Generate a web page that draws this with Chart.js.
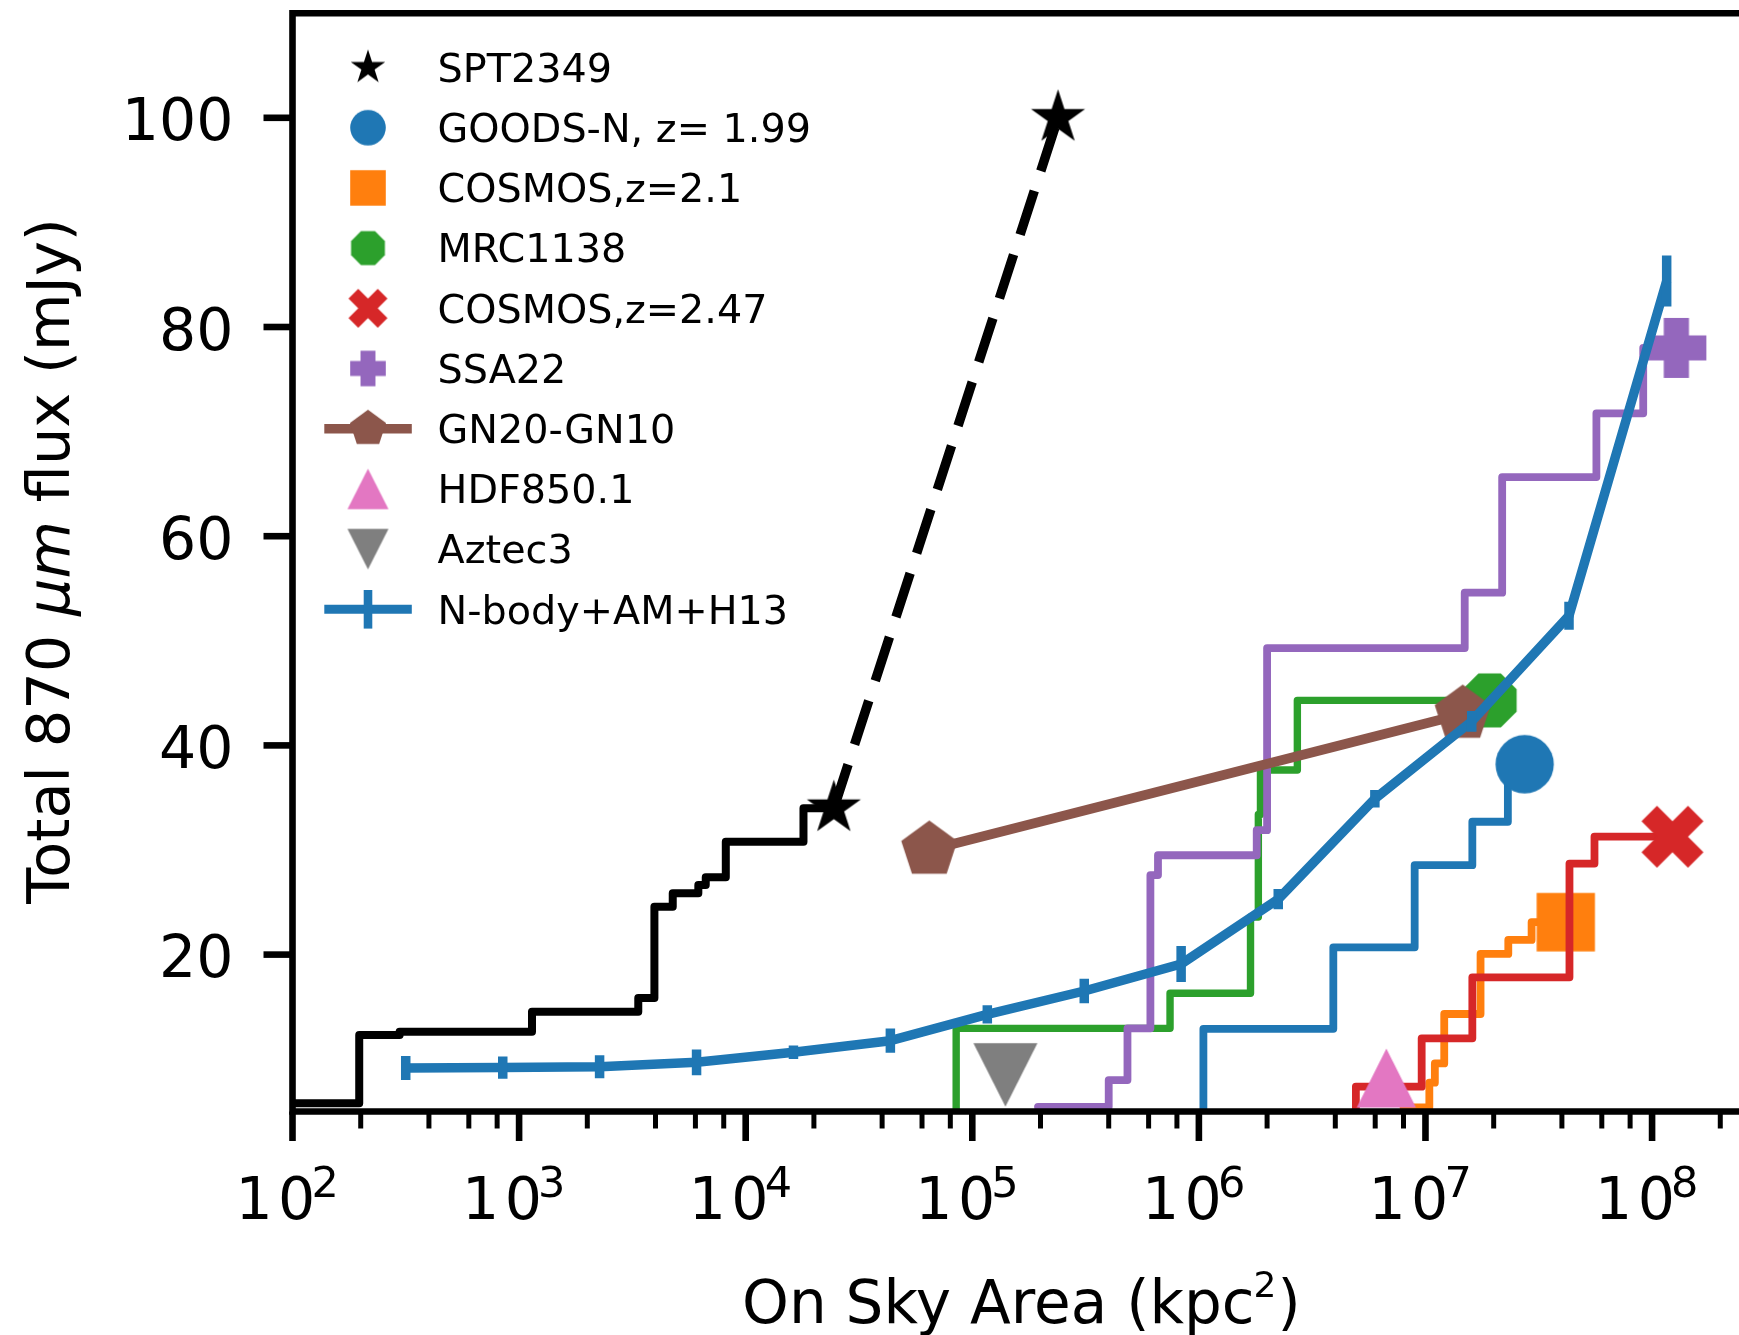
<!DOCTYPE html>
<html>
<head>
<meta charset="utf-8">
<script src="https://cdn.jsdelivr.net/npm/chart.js@4.4.1/dist/chart.umd.min.js"></script>
<style>
  html, body { margin: 0; padding: 0; background: #fff; }
  #wrap { width: 1739px; height: 1335px; }
</style>
</head>
<body>
<div id="wrap"><canvas id="chart" width="1739" height="1335"></canvas></div>
<script>
// values (x = on sky area in kpc^2, y = total 870um flux in mJy)
const xMin = 100, xMax = 2.419e8;
const yMin = 5, yMax = 110;
const yTicks = [20, 40, 60, 80, 100];
const xDecades = [2, 3, 4, 5, 6, 7, 8];
const xMinorSubs = [2, 4, 6, 8];

const sptX = [60, 197, 297, 1140, 3357, 3955, 4765, 6180, 6664, 8170, 17990, 24500];
const sptY = [5.78, 12.31, 12.63, 14.54, 15.85, 24.58, 25.86, 26.65, 27.4, 30.8, 34.0, 34.0];
const sptStarX = [24500, 239000];
const sptStarY = [34.0, 100];

const goodsX = [1.047e6, 1.047e6, 3.92e6, 8.96e6, 1.61e7, 2.31e7, 2.74e7];
const goodsY = [0, 12.9, 20.7, 28.55, 32.7, 38.2, 38.2];

const cosmos21X = [8.0e6, 1.04e7, 1.10e7, 1.21e7, 1.75e7, 2.32e7, 2.94e7, 4.16e7];
const cosmos21Y = [5.4, 7.76, 9.6, 14.32, 20.06, 21.4, 23.1, 23.1];

const mrcX = [8.49e4, 8.49e4, 7.46e5, 1.69e6, 1.83e6, 1.87e6, 2.72e6, 1.92e7];
const mrcY = [0, 12.95, 16.3, 23.6, 33.4, 37.65, 44.3, 44.3];

const cosmos247X = [4.93e6, 4.93e6, 9.62e6, 1.61e7, 4.32e7, 5.57e7, 1.23e8];
const cosmos247Y = [0, 7.37, 12.0, 17.83, 28.7, 31.27, 31.27];

const ssaX = [1.95e5, 4.0e5, 4.84e5, 6.11e5, 6.6e5, 1.80e6, 2.0e6, 1.49e7, 2.18e7, 5.68e7, 9.14e7, 1.28e8];
const ssaY = [5.45, 8.0, 12.95, 27.6, 29.5, 31.9, 49.3, 54.6, 65.65, 71.75, 78.0, 78.0];

const gnX = [6.46e4, 1.46e7];
const gnY = [30.0, 43.0];

const hdfX = [6.72e6];
const hdfY = [8.2];
const aztecX = [1.40e5];
const aztecY = [8.5];

const nbodyX = [316, 847, 2266, 6070, 16250, 43500, 116500, 312000, 835000, 2.24e6, 5.98e6, 1.60e7, 4.3e7, 1.16e8];
const nbodyY = [9.16, 9.2, 9.28, 9.7, 10.66, 11.77, 14.29, 16.52, 19.1, 25.3, 34.9, 42.3, 52.4, 84.4];
const nbodyErr = [1.15, 1.07, 1.1, 1.23, 0.64, 1.16, 0.87, 1.18, 1.72, 0.96, 0.83, 1.0, 1.34, 2.43];

const legendLabels = ['SPT2349', 'GOODS-N, z= 1.99', 'COSMOS,z=2.1', 'MRC1138', 'COSMOS,z=2.47',
  'SSA22', 'GN20-GN10', 'HDF850.1', 'Aztec3', 'N-body+AM+H13'];

const C = {
  black: '#000000', blue: '#1f77b4', orange: '#ff7f0e', green: '#2ca02c', red: '#d62728',
  purple: '#9467bd', brown: '#8c564b', pink: '#e377c2', gray: '#7f7f7f'
};
const FONT = '"DejaVu Sans", "Liberation Sans", sans-serif';

// marker shapes like the matplotlib ones, drawn on small canvases
function shapePath(g, shape, w, h) {
  const rx = w / 2, ry = h / 2;
  const poly = pts => {
    g.moveTo(pts[0][0], pts[0][1]);
    for (let i = 1; i < pts.length; i++) g.lineTo(pts[i][0], pts[i][1]);
  };
  const ring = (n, r, off) => {
    const pts = [];
    for (let k = 0; k < n; k++) {
      const t = -Math.PI / 2 + off + k * 2 * Math.PI / n;
      pts.push([r * Math.cos(t), r * Math.sin(t)]);
    }
    return pts;
  };
  g.beginPath();
  switch (shape) {
    case 'circle': g.ellipse(0, 0, rx, ry, 0, 0, 2 * Math.PI); break;
    case 'square': g.rect(-rx, -ry, w, h); break;
    case 'triUp': poly([[0, -ry], [rx, ry], [-rx, ry]]); break;
    case 'triDown': poly([[0, ry], [rx, -ry], [-rx, -ry]]); break;
    case 'plus': {
      const a = rx * 0.42;
      poly([[-a, -ry], [a, -ry], [a, -a], [rx, -a], [rx, a], [a, a], [a, ry], [-a, ry],
        [-a, a], [-rx, a], [-rx, -a], [-a, -a]]);
      break;
    }
    case 'x': {
      const s = rx / 2;
      poly([[-1, -2], [0, -1], [1, -2], [2, -1], [1, 0], [2, 1], [1, 2], [0, 1], [-1, 2], [-2, 1], [-1, 0], [-2, -1]]
        .map(p => [p[0] * s, p[1] * s]));
      break;
    }
    case 'star': {
      const pts = [];
      for (let k = 0; k < 10; k++) {
        const r = k % 2 ? rx * 0.381966 : rx;
        const t = -Math.PI / 2 + k * Math.PI / 5;
        pts.push([r * Math.cos(t), r * Math.sin(t)]);
      }
      poly(pts);
      break;
    }
    case 'pentagon': poly(ring(5, rx, 0)); break;
    case 'octagon': poly(ring(8, rx, Math.PI / 8)); break;
  }
  g.closePath();
}

// edge > 0 adds a same-colour outline (matplotlib marker edge)
function marker(shape, w, h, color, edge) {
  const n = Math.ceil(Math.max(w, h) + (edge ? edge * 4 : 0)) + 4;
  const c = document.createElement('canvas');
  c.width = n;
  c.height = n;
  const g = c.getContext('2d');
  g.translate(n / 2, n / 2);
  g.fillStyle = color;
  shapePath(g, shape, w, h);
  g.fill();
  if (edge) {
    g.strokeStyle = color;
    g.lineWidth = edge;
    g.lineJoin = 'miter';
    g.miterLimit = 10;
    g.stroke();
  }
  return c;
}

const mk = {
  star: marker('star', 42, 42, C.black, 4.6),
  circle: marker('circle', 58.3, 58.3, C.blue),
  square: marker('square', 58.3, 58.3, C.orange),
  octagon: marker('octagon', 58.4, 58.4, C.green),
  x: marker('x', 62, 62, C.red),
  plus: marker('plus', 60, 60, C.purple),
  pentagon: marker('pentagon', 59, 59, C.brown),
  triUp: marker('triUp', 59.3, 59, C.pink),
  triDown: marker('triDown', 64, 63.4, C.gray)
};
const lg = {
  star: marker('star', 22, 22, C.black, 4.4),
  circle: marker('circle', 35.6, 35.6, C.blue),
  square: marker('square', 35.6, 35.6, C.orange),
  octagon: marker('octagon', 36.6, 36.6, C.green),
  x: marker('x', 39, 39, C.red),
  plus: marker('plus', 35.6, 35.6, C.purple),
  pentagon: marker('pentagon', 38, 38, C.brown),
  triUp: marker('triUp', 41, 40.7, C.pink),
  triDown: marker('triDown', 41, 40.7, C.gray)
};

function pts(xs, ys) {
  return xs.map((x, i) => ({ x: x, y: ys[i] }));
}
function stepSet(xs, ys, color, width) {
  return {
    data: pts(xs, ys), borderColor: color, borderWidth: width, stepped: 'before',
    pointRadius: 0, fill: false, borderJoinStyle: 'round', borderCapStyle: 'round', clip: 0
  };
}
function markSet(xs, ys, img) {
  return {
    data: pts(xs, ys), showLine: false, pointStyle: img, pointRadius: img.width / 2,
    borderWidth: 0, backgroundColor: 'rgba(0,0,0,0)'
  };
}

const datasets = [
  stepSet(sptX, sptY, C.black, 8),
  {
    data: pts(sptStarX, sptStarY), borderColor: C.black, borderWidth: 9.5,
    borderDash: [46, 21], borderCapStyle: 'butt', pointRadius: 0, fill: false
  },
  markSet(sptStarX, sptStarY, mk.star),
  stepSet(goodsX, goodsY, C.blue, 7.8),
  markSet(goodsX.slice(-1), goodsY.slice(-1), mk.circle),
  stepSet(cosmos21X, cosmos21Y, C.orange, 7.8),
  markSet(cosmos21X.slice(-1), cosmos21Y.slice(-1), mk.square),
  stepSet(mrcX, mrcY, C.green, 7.4),
  markSet(mrcX.slice(-1), mrcY.slice(-1), mk.octagon),
  stepSet(cosmos247X, cosmos247Y, C.red, 7.8),
  markSet(cosmos247X.slice(-1), cosmos247Y.slice(-1), mk.x),
  stepSet(ssaX, ssaY, C.purple, 7.8),
  markSet(ssaX.slice(-1), ssaY.slice(-1), mk.plus),
  {
    data: pts(gnX, gnY), borderColor: C.brown, borderWidth: 10, fill: false,
    pointStyle: mk.pentagon, pointRadius: mk.pentagon.width / 2, pointBorderWidth: 0,
    pointBackgroundColor: 'rgba(0,0,0,0)'
  },
  markSet(hdfX, hdfY, mk.triUp),
  markSet(aztecX, aztecY, mk.triDown),
  {
    data: pts(nbodyX, nbodyY), borderColor: C.blue, borderWidth: 9.5, fill: false,
    pointRadius: 0, borderCapStyle: 'butt', borderJoinStyle: 'round'
  }
];
// later datasets on top, as in the original plot order
datasets.forEach((d, i) => { d.order = datasets.length - i; });

const frame = {
  id: 'frame',
  afterDatasetsDraw(chart) {
    const { ctx, chartArea: a, scales } = chart;
    ctx.save();
    ctx.beginPath();
    ctx.rect(a.left, a.top, a.right - a.left, a.bottom - a.top);
    ctx.clip();
    ctx.strokeStyle = C.blue;
    ctx.lineWidth = 9.5;
    nbodyX.forEach((xv, i) => {
      const px = scales.x.getPixelForValue(xv);
      ctx.beginPath();
      ctx.moveTo(px, scales.y.getPixelForValue(nbodyY[i] - nbodyErr[i]));
      ctx.lineTo(px, scales.y.getPixelForValue(nbodyY[i] + nbodyErr[i]));
      ctx.stroke();
    });
    ctx.restore();
  },
  afterDraw(chart) {
    const { ctx, chartArea: a, scales } = chart;
    const xs = scales.x, ys = scales.y;
    ctx.save();
    ctx.strokeStyle = '#000';
    ctx.fillStyle = '#000';
    ctx.lineWidth = 6.6;
    ctx.lineJoin = 'miter';
    ctx.beginPath();
    ctx.moveTo(a.right + 10, a.top);
    ctx.lineTo(a.left, a.top);
    ctx.lineTo(a.left, a.bottom);
    ctx.lineTo(a.right + 10, a.bottom);
    ctx.stroke();

    const seg = (x1, y1, x2, y2) => {
      ctx.beginPath(); ctx.moveTo(x1, y1); ctx.lineTo(x2, y2); ctx.stroke();
    };

    // y ticks
    ctx.font = '58.5px ' + FONT;
    ctx.textAlign = 'right';
    ctx.textBaseline = 'alphabetic';
    yTicks.forEach(v => {
      const py = ys.getPixelForValue(v);
      ctx.lineWidth = 6.6;
      seg(a.left - 29, py, a.left, py);
      ctx.fillText(String(v), a.left - 59, py + 22.5);
    });

    // x ticks, log decades with minor ticks at 2,4,6,8
    ctx.textAlign = 'left';
    xDecades.forEach(d => {
      const base = Math.pow(10, d);
      const px = xs.getPixelForValue(base);
      ctx.lineWidth = 6.6;
      seg(px, a.bottom, px, a.bottom + 29.5);
      xMinorSubs.forEach(m => {
        const v = m * base;
        if (v > xMax) return;
        const mx = xs.getPixelForValue(v);
        ctx.lineWidth = 5;
        seg(mx, a.bottom, mx, a.bottom + 17);
      });
      ctx.font = '58.5px ' + FONT;
      ctx.fillText('1', px - 57, a.bottom + 107.8);
      ctx.fillText('0', px - 14.4, a.bottom + 107.8);
      ctx.font = '43px ' + FONT;
      ctx.fillText(String(d), px + 19, a.bottom + 85.2);
    });

    // x title
    ctx.font = '59.6px ' + FONT;
    const main = 'On Sky Area (kpc';
    const tx = 742, tb = 1322.5;
    ctx.fillText(main, tx, tb);
    const w1 = ctx.measureText(main).width;
    ctx.font = '36px ' + FONT;
    const sx = tx + w1 - 1;
    ctx.fillText('2', sx, 1296.7);
    const w2 = ctx.measureText('2').width;
    ctx.font = '59.6px ' + FONT;
    ctx.fillText(')', sx + w2 + 1, tb);

    // y title
    ctx.save();
    ctx.translate(69, 561);
    ctx.rotate(-Math.PI / 2);
    const p1 = 'Total 870 ', p2 = '\u03bcm', p3 = ' flux (mJy)';
    ctx.font = '59px ' + FONT;
    const a1 = ctx.measureText(p1).width, a3 = ctx.measureText(p3).width;
    ctx.font = 'italic 59px ' + FONT;
    const a2 = ctx.measureText(p2).width;
    const xx = -(a1 + a2 + a3) / 2;
    ctx.font = '59px ' + FONT;
    ctx.fillText(p1, xx, 0);
    ctx.font = 'italic 59px ' + FONT;
    ctx.fillText(p2, xx + a1, 0);
    ctx.font = '59px ' + FONT;
    ctx.fillText(p3, xx + a1 + a2, 0);
    ctx.restore();

    // legend
    const icons = [lg.star, lg.circle, lg.square, lg.octagon, lg.x, lg.plus, lg.pentagon, lg.triUp, lg.triDown, null];
    const mx = 368;
    ctx.font = '39.7px ' + FONT;
    legendLabels.forEach((lab, i) => {
      const cy = 67.5 + i * 60.2;
      if (i === 6 || i === 9) {
        ctx.strokeStyle = i === 6 ? C.brown : C.blue;
        ctx.lineWidth = i === 6 ? 9.5 : 9;
        ctx.lineCap = 'butt';
        seg(324.3, cy, 411.8, cy);
      }
      if (i === 9) {
        ctx.lineWidth = 8.6;
        seg(mx, cy - 19.3, mx, cy + 19.3);
      }
      const img = icons[i];
      if (img) ctx.drawImage(img, mx - img.width / 2, cy - img.height / 2);
      ctx.fillStyle = '#000';
      ctx.fillText(lab, 437.6, cy + 14.3);
    });
    ctx.restore();
  }
};

new Chart(document.getElementById('chart'), {
  type: 'line',
  data: { datasets: datasets },
  options: {
    responsive: false,
    animation: false,
    events: [],
    devicePixelRatio: 1,
    layout: { autoPadding: false, padding: { left: 292.5, top: 13.2, right: 0, bottom: 223.5 } },
    plugins: { legend: { display: false }, tooltip: { enabled: false }, title: { display: false } },
    scales: {
      x: { type: 'logarithmic', min: xMin, max: xMax, display: false },
      y: { type: 'linear', min: yMin, max: yMax, display: false }
    }
  },
  plugins: [frame]
});
</script>
</body>
</html>
